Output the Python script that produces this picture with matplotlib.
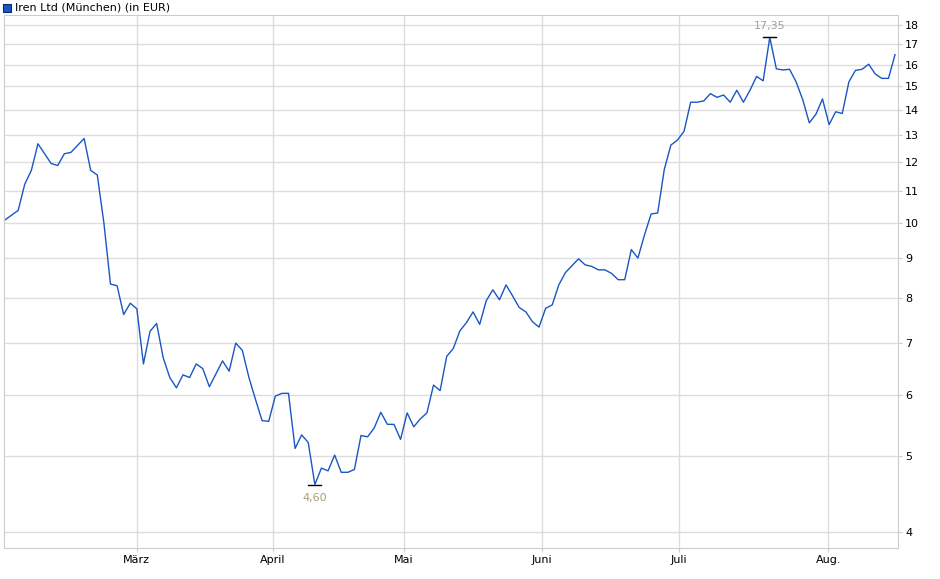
import numpy as np
import matplotlib.pyplot as plt
from matplotlib.ticker import FixedLocator, NullLocator, FixedFormatter

# Handelstage (Index) und Kurse in EUR
tage_links = [0, 2, 3, 4, 5, 7, 8, 9, 10, 12, 13, 14, 15, 16, 17, 18, 19, 20, 21, 22,
              23, 24, 25, 26, 27, 28, 29, 30, 31, 33, 34, 35, 36, 37, 38, 39, 40, 41, 42, 43,
              44, 45, 46, 47, 48, 49, 50, 51, 52, 53, 54, 55, 56, 57, 58, 59, 60, 61, 62, 63,
              64, 65, 66, 67, 68, 69]
kurs_links = [10.09, 10.38, 11.22, 11.69, 12.65, 11.93, 11.86, 12.28, 12.33, 12.85,
              11.69, 11.53, 10.0, 8.34, 8.30, 7.62, 7.88, 7.75, 6.58, 7.25,
              7.42, 6.70, 6.32, 6.13, 6.37, 6.32, 6.58, 6.49, 6.15, 6.64,
              6.44, 7.0, 6.85, 6.32, 5.92, 5.56, 5.55, 5.98, 6.03, 6.03,
              5.12, 5.33, 5.21, 4.60, 4.83, 4.79, 5.02, 4.77, 4.77, 4.81,
              5.32, 5.30, 5.44, 5.70, 5.50, 5.50, 5.26, 5.69, 5.46, 5.59,
              5.69, 6.18, 6.08, 6.73, 6.89, 7.26]
kurs_rechts = [7.44, 7.68, 7.40, 7.94, 8.20, 7.96, 8.32, 8.05, 7.78, 7.68,
               7.46, 7.34, 7.76, 7.84, 8.32, 8.63, 8.81, 8.99, 8.83, 8.79,
               8.70, 8.70, 8.61, 8.45, 8.45, 9.24, 9.01, 9.65, 10.27, 10.30,
               11.72, 12.60, 12.79, 13.13, 14.31, 14.31, 14.37, 14.68, 14.52, 14.62,
               14.31, 14.83, 14.31, 14.83, 15.45, 15.25, 17.35, 15.80, 15.75, 15.78,
               15.20, 14.42, 13.46, 13.81, 14.45, 13.39, 13.91, 13.84, 15.20, 15.73,
               15.78, 16.02, 15.56, 15.36, 15.36, 16.48]
tage = tage_links + list(range(70, 70 + len(kurs_rechts)))
kurs = kurs_links + kurs_rechts

monate = ['März', 'April', 'Mai', 'Juni', 'Juli', 'Aug.']
monat_pos = [20.0, 40.6, 60.5, 81.4, 102.2, 124.9]
y_ticks = [4, 5, 6, 7, 8, 9, 10, 11, 12, 13, 14, 15, 16, 17, 18]

fig = plt.figure(figsize=(9.4, 5.79), dpi=100)
ax = fig.add_axes([4 / 940, 1 - 548 / 579, 894 / 940, 533 / 579])

ax.plot(tage, kurs, color='#1a56c4', lw=1)
ax.set_yscale('log')
ax.set_ylim(3.81, 18.54)
ax.set_xlim(-0.15, 135.45)

ax.yaxis.set_major_locator(FixedLocator(y_ticks))
ax.yaxis.set_major_formatter(FixedFormatter([str(v) for v in y_ticks]))
ax.yaxis.set_minor_locator(NullLocator())
ax.yaxis.tick_right()
ax.set_xticks(monat_pos)
ax.set_xticklabels(monate)
ax.tick_params(labelsize=8, length=3, color='#cccccc', pad=2)
ax.grid(True, color='#dddddd', lw=1)
for s in ax.spines.values():
    s.set_color('#cccccc')

# Hoch / Tief markieren
i_max = int(np.argmax(kurs))
i_min = int(np.argmin(kurs))
for i, off, col in [(i_max, 8, '#a0a0a0'), (i_min, -10, '#b09a70')]:
    ax.plot([tage[i] - 1, tage[i] + 1], [kurs[i], kurs[i]], color='black', lw=1)
    ax.annotate(f'{kurs[i]:.2f}'.replace('.', ','), (tage[i], kurs[i]),
                xytext=(0, off), textcoords='offset points', ha='center',
                va='center', fontsize=8, color=col)

# Legende oben links
fig.patches.append(plt.Rectangle((3 / 940, 1 - 12 / 579), 8 / 940, 8 / 579,
                                 transform=fig.transFigure, facecolor='#1a56c4',
                                 edgecolor='#0a2a70', lw=0.8))
fig.text(15 / 940, 1 - 7 / 579, 'Iren Ltd (München) (in EUR)', fontsize=8,
         va='center', ha='left')

fig.savefig('out.png', dpi=100)
